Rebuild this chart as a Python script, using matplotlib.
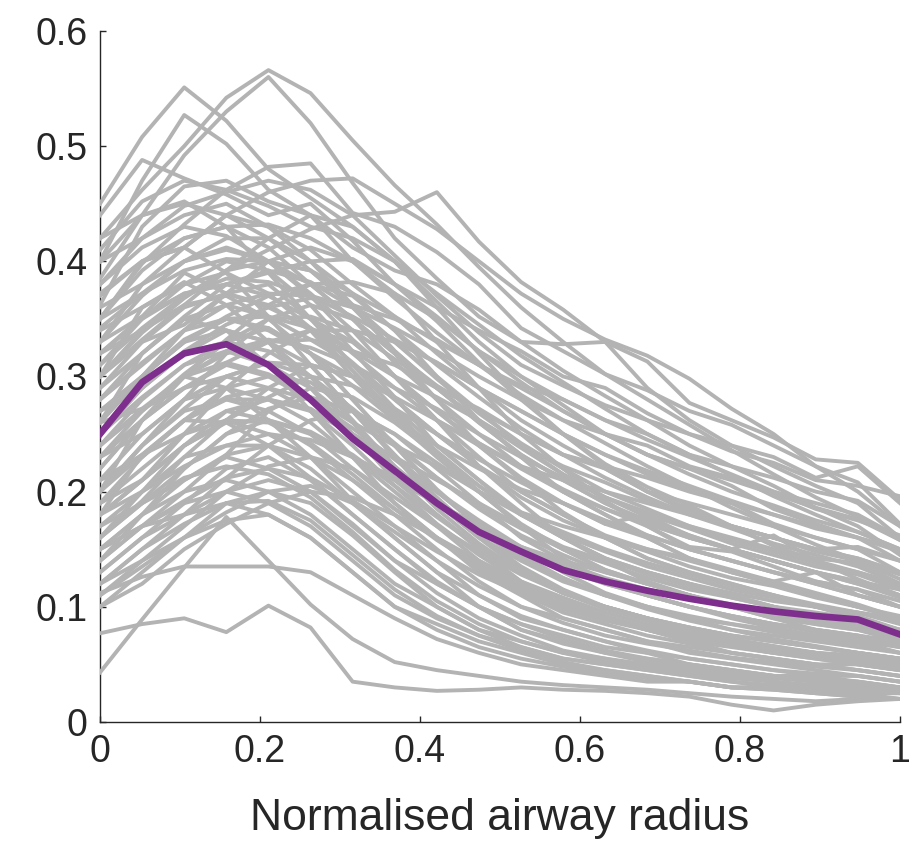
import numpy as np
import matplotlib
matplotlib.use("Agg")
import matplotlib.pyplot as plt

# normalised airway radius sample points (20 bins)
radius = np.linspace(0, 1, 20)

# individual airway profiles (grey)
high_profiles = [
    [0.450, 0.508, 0.551, 0.522, 0.480, 0.455, 0.430, 0.400, 0.372, 0.345, 0.318, 0.295, 0.272, 0.250, 0.232, 0.214, 0.196, 0.180, 0.165, 0.150],
    [0.420, 0.462, 0.500, 0.542, 0.566, 0.546, 0.505, 0.466, 0.432, 0.395, 0.360, 0.330, 0.302, 0.280, 0.258, 0.236, 0.215, 0.195, 0.178, 0.158],
    [0.300, 0.338, 0.368, 0.392, 0.410, 0.428, 0.440, 0.443, 0.460, 0.417, 0.382, 0.358, 0.330, 0.313, 0.277, 0.262, 0.247, 0.228, 0.225, 0.193],
    [0.385, 0.440, 0.492, 0.530, 0.560, 0.520, 0.468, 0.420, 0.385, 0.352, 0.330, 0.305, 0.283, 0.262, 0.240, 0.222, 0.205, 0.186, 0.170, 0.145],
    [0.400, 0.470, 0.527, 0.502, 0.462, 0.440, 0.400, 0.368, 0.338, 0.310, 0.284, 0.262, 0.242, 0.222, 0.204, 0.186, 0.170, 0.154, 0.140, 0.124],
    [0.440, 0.488, 0.472, 0.458, 0.440, 0.450, 0.418, 0.380, 0.348, 0.312, 0.280, 0.250, 0.224, 0.204, 0.188, 0.170, 0.153, 0.140, 0.124, 0.110],
    [0.350, 0.398, 0.432, 0.462, 0.482, 0.485, 0.442, 0.430, 0.408, 0.380, 0.342, 0.322, 0.302, 0.288, 0.270, 0.258, 0.240, 0.222, 0.208, 0.172],
    [0.330, 0.380, 0.412, 0.440, 0.460, 0.470, 0.472, 0.450, 0.428, 0.400, 0.372, 0.350, 0.332, 0.318, 0.298, 0.272, 0.250, 0.222, 0.200, 0.170],
    [0.362, 0.430, 0.465, 0.470, 0.452, 0.440, 0.412, 0.392, 0.380, 0.358, 0.330, 0.328, 0.330, 0.290, 0.262, 0.240, 0.222, 0.205, 0.190, 0.160],
    [0.410, 0.452, 0.470, 0.462, 0.448, 0.430, 0.420, 0.400, 0.365, 0.330, 0.300, 0.275, 0.250, 0.232, 0.220, 0.205, 0.185, 0.172, 0.160, 0.140],
    [0.380, 0.420, 0.448, 0.460, 0.470, 0.462, 0.440, 0.405, 0.370, 0.338, 0.310, 0.292, 0.275, 0.262, 0.250, 0.235, 0.225, 0.210, 0.205, 0.196],
]

slow_profiles = [
    [0.300, 0.340, 0.370, 0.385, 0.382, 0.370, 0.352, 0.332, 0.312, 0.290, 0.270, 0.250, 0.232, 0.215, 0.202, 0.190, 0.180, 0.170, 0.160, 0.150],
    [0.262, 0.300, 0.330, 0.350, 0.352, 0.342, 0.322, 0.300, 0.282, 0.262, 0.240, 0.222, 0.208, 0.192, 0.182, 0.170, 0.160, 0.150, 0.142, 0.130],
    [0.220, 0.262, 0.300, 0.322, 0.332, 0.325, 0.310, 0.290, 0.272, 0.250, 0.230, 0.212, 0.195, 0.182, 0.170, 0.160, 0.150, 0.142, 0.138, 0.120],
    [0.200, 0.240, 0.272, 0.300, 0.312, 0.310, 0.300, 0.282, 0.262, 0.242, 0.222, 0.202, 0.185, 0.172, 0.160, 0.150, 0.140, 0.130, 0.122, 0.110],
    [0.342, 0.372, 0.392, 0.402, 0.400, 0.392, 0.372, 0.352, 0.330, 0.310, 0.292, 0.280, 0.262, 0.250, 0.232, 0.222, 0.212, 0.200, 0.192, 0.170],
    [0.280, 0.310, 0.340, 0.362, 0.372, 0.370, 0.360, 0.342, 0.322, 0.300, 0.280, 0.262, 0.250, 0.240, 0.222, 0.212, 0.200, 0.190, 0.180, 0.160],
    [0.240, 0.272, 0.300, 0.320, 0.330, 0.332, 0.322, 0.310, 0.290, 0.272, 0.250, 0.232, 0.222, 0.212, 0.200, 0.190, 0.172, 0.160, 0.150, 0.130],
    [0.320, 0.352, 0.372, 0.380, 0.390, 0.400, 0.402, 0.380, 0.352, 0.322, 0.300, 0.280, 0.262, 0.245, 0.230, 0.215, 0.200, 0.185, 0.175, 0.162],
    [0.372, 0.400, 0.420, 0.430, 0.432, 0.420, 0.400, 0.380, 0.360, 0.340, 0.322, 0.300, 0.290, 0.268, 0.250, 0.240, 0.230, 0.212, 0.222, 0.190],
    [0.250, 0.290, 0.322, 0.345, 0.360, 0.368, 0.362, 0.350, 0.332, 0.310, 0.290, 0.270, 0.250, 0.232, 0.220, 0.210, 0.198, 0.186, 0.176, 0.158],
]

mid_profiles = [
    [0.400, 0.420, 0.440, 0.450, 0.430, 0.400, 0.362, 0.322, 0.290, 0.260, 0.232, 0.210, 0.190, 0.172, 0.160, 0.150, 0.140, 0.130, 0.120, 0.110],
    [0.380, 0.412, 0.430, 0.422, 0.400, 0.370, 0.332, 0.300, 0.270, 0.240, 0.212, 0.190, 0.172, 0.160, 0.142, 0.132, 0.122, 0.112, 0.102, 0.090],
    [0.350, 0.392, 0.420, 0.430, 0.412, 0.380, 0.350, 0.312, 0.280, 0.250, 0.222, 0.200, 0.180, 0.162, 0.150, 0.140, 0.130, 0.120, 0.110, 0.100],
    [0.330, 0.370, 0.400, 0.412, 0.400, 0.372, 0.340, 0.300, 0.262, 0.230, 0.200, 0.180, 0.160, 0.142, 0.130, 0.120, 0.110, 0.100, 0.090, 0.080],
    [0.310, 0.350, 0.380, 0.400, 0.392, 0.362, 0.322, 0.282, 0.240, 0.210, 0.180, 0.160, 0.142, 0.130, 0.120, 0.110, 0.100, 0.090, 0.085, 0.070],
    [0.300, 0.330, 0.360, 0.372, 0.362, 0.340, 0.300, 0.262, 0.230, 0.200, 0.170, 0.150, 0.132, 0.120, 0.110, 0.100, 0.090, 0.085, 0.080, 0.070],
    [0.280, 0.320, 0.350, 0.362, 0.352, 0.332, 0.310, 0.280, 0.250, 0.222, 0.200, 0.180, 0.162, 0.150, 0.140, 0.130, 0.120, 0.110, 0.100, 0.090],
    [0.270, 0.300, 0.332, 0.350, 0.340, 0.320, 0.280, 0.240, 0.200, 0.170, 0.150, 0.130, 0.112, 0.100, 0.090, 0.080, 0.075, 0.070, 0.065, 0.060],
    [0.250, 0.290, 0.320, 0.340, 0.330, 0.310, 0.270, 0.230, 0.190, 0.160, 0.132, 0.112, 0.100, 0.090, 0.080, 0.070, 0.065, 0.060, 0.055, 0.050],
    [0.240, 0.280, 0.310, 0.322, 0.310, 0.290, 0.260, 0.220, 0.190, 0.160, 0.140, 0.122, 0.110, 0.100, 0.090, 0.085, 0.080, 0.075, 0.070, 0.065],
    [0.220, 0.262, 0.290, 0.310, 0.300, 0.280, 0.250, 0.210, 0.180, 0.150, 0.122, 0.100, 0.090, 0.080, 0.070, 0.065, 0.060, 0.055, 0.050, 0.045],
    [0.210, 0.250, 0.280, 0.290, 0.280, 0.260, 0.230, 0.200, 0.170, 0.140, 0.120, 0.100, 0.090, 0.080, 0.070, 0.060, 0.055, 0.050, 0.045, 0.040],
    [0.200, 0.240, 0.270, 0.280, 0.270, 0.250, 0.220, 0.190, 0.160, 0.130, 0.110, 0.090, 0.080, 0.070, 0.060, 0.055, 0.050, 0.045, 0.040, 0.035],
    [0.190, 0.220, 0.250, 0.270, 0.262, 0.240, 0.210, 0.180, 0.150, 0.122, 0.100, 0.090, 0.080, 0.070, 0.065, 0.060, 0.055, 0.050, 0.050, 0.045],
    [0.180, 0.210, 0.240, 0.262, 0.250, 0.230, 0.200, 0.170, 0.140, 0.110, 0.090, 0.080, 0.070, 0.060, 0.055, 0.050, 0.045, 0.040, 0.040, 0.035],
    [0.170, 0.200, 0.230, 0.240, 0.240, 0.220, 0.190, 0.160, 0.130, 0.100, 0.085, 0.075, 0.065, 0.060, 0.050, 0.045, 0.040, 0.040, 0.035, 0.030],
    [0.160, 0.190, 0.210, 0.230, 0.220, 0.200, 0.170, 0.140, 0.120, 0.100, 0.080, 0.070, 0.060, 0.055, 0.050, 0.045, 0.040, 0.035, 0.035, 0.030],
    [0.150, 0.180, 0.200, 0.210, 0.200, 0.180, 0.150, 0.120, 0.100, 0.080, 0.070, 0.060, 0.055, 0.050, 0.045, 0.040, 0.035, 0.030, 0.030, 0.025],
    [0.140, 0.170, 0.190, 0.200, 0.190, 0.170, 0.140, 0.110, 0.090, 0.075, 0.065, 0.055, 0.050, 0.045, 0.040, 0.035, 0.030, 0.030, 0.025, 0.025],
    [0.130, 0.160, 0.180, 0.190, 0.180, 0.160, 0.130, 0.100, 0.085, 0.070, 0.060, 0.050, 0.045, 0.040, 0.035, 0.030, 0.030, 0.025, 0.025, 0.020],
]

late_peak_profiles = [
    [0.230, 0.262, 0.300, 0.332, 0.362, 0.380, 0.370, 0.340, 0.300, 0.262, 0.230, 0.200, 0.180, 0.160, 0.142, 0.130, 0.120, 0.110, 0.100, 0.090],
    [0.200, 0.240, 0.280, 0.320, 0.350, 0.362, 0.350, 0.320, 0.280, 0.240, 0.210, 0.182, 0.160, 0.142, 0.130, 0.120, 0.110, 0.100, 0.092, 0.080],
    [0.180, 0.210, 0.250, 0.290, 0.320, 0.340, 0.330, 0.300, 0.262, 0.222, 0.190, 0.160, 0.140, 0.122, 0.110, 0.100, 0.090, 0.080, 0.075, 0.065],
    [0.160, 0.192, 0.230, 0.262, 0.290, 0.310, 0.300, 0.270, 0.232, 0.200, 0.170, 0.142, 0.122, 0.110, 0.100, 0.090, 0.082, 0.075, 0.070, 0.060],
    [0.260, 0.300, 0.340, 0.372, 0.400, 0.412, 0.400, 0.372, 0.330, 0.290, 0.250, 0.220, 0.192, 0.170, 0.150, 0.140, 0.130, 0.120, 0.110, 0.100],
    [0.120, 0.150, 0.180, 0.212, 0.240, 0.262, 0.270, 0.250, 0.220, 0.190, 0.160, 0.140, 0.122, 0.110, 0.100, 0.092, 0.085, 0.080, 0.075, 0.070],
    [0.140, 0.170, 0.200, 0.232, 0.270, 0.290, 0.282, 0.260, 0.232, 0.200, 0.172, 0.150, 0.132, 0.120, 0.110, 0.100, 0.092, 0.085, 0.080, 0.072],
    [0.300, 0.332, 0.362, 0.392, 0.420, 0.440, 0.430, 0.400, 0.360, 0.320, 0.282, 0.250, 0.222, 0.200, 0.182, 0.170, 0.160, 0.150, 0.142, 0.130],
]

early_peak_profiles = [
    [0.300, 0.360, 0.382, 0.362, 0.330, 0.290, 0.250, 0.212, 0.180, 0.152, 0.130, 0.112, 0.100, 0.090, 0.082, 0.075, 0.070, 0.065, 0.060, 0.055],
    [0.260, 0.320, 0.350, 0.340, 0.310, 0.270, 0.230, 0.190, 0.160, 0.132, 0.112, 0.095, 0.085, 0.075, 0.068, 0.060, 0.055, 0.050, 0.045, 0.040],
    [0.350, 0.400, 0.412, 0.390, 0.352, 0.310, 0.270, 0.230, 0.200, 0.172, 0.150, 0.132, 0.120, 0.110, 0.100, 0.092, 0.085, 0.080, 0.075, 0.068],
    [0.200, 0.262, 0.300, 0.290, 0.262, 0.230, 0.192, 0.160, 0.130, 0.110, 0.092, 0.080, 0.070, 0.062, 0.055, 0.050, 0.045, 0.042, 0.040, 0.035],
    [0.400, 0.440, 0.452, 0.430, 0.390, 0.350, 0.310, 0.272, 0.240, 0.210, 0.182, 0.160, 0.142, 0.130, 0.120, 0.110, 0.100, 0.092, 0.085, 0.078],
    [0.180, 0.232, 0.262, 0.260, 0.240, 0.212, 0.180, 0.150, 0.122, 0.100, 0.085, 0.072, 0.062, 0.055, 0.050, 0.045, 0.040, 0.038, 0.035, 0.030],
]

low_profiles = [
    [0.077, 0.085, 0.090, 0.078, 0.101, 0.082, 0.035, 0.030, 0.027, 0.028, 0.030, 0.028, 0.027, 0.025, 0.022, 0.015, 0.010, 0.015, 0.018, 0.020],
    [0.043, 0.089, 0.134, 0.178, 0.140, 0.102, 0.072, 0.052, 0.045, 0.040, 0.035, 0.032, 0.030, 0.028, 0.025, 0.022, 0.020, 0.018, 0.020, 0.020],
    [0.112, 0.126, 0.135, 0.135, 0.135, 0.130, 0.110, 0.090, 0.072, 0.060, 0.050, 0.045, 0.040, 0.035, 0.035, 0.030, 0.030, 0.028, 0.025, 0.025],
    [0.110, 0.140, 0.160, 0.175, 0.180, 0.160, 0.130, 0.100, 0.080, 0.065, 0.055, 0.048, 0.042, 0.038, 0.035, 0.030, 0.028, 0.025, 0.022, 0.020],
    [0.120, 0.150, 0.172, 0.190, 0.192, 0.175, 0.145, 0.115, 0.092, 0.075, 0.062, 0.052, 0.045, 0.040, 0.035, 0.030, 0.028, 0.025, 0.022, 0.020],
    [0.150, 0.170, 0.180, 0.200, 0.210, 0.200, 0.172, 0.140, 0.112, 0.090, 0.075, 0.062, 0.055, 0.048, 0.042, 0.038, 0.035, 0.032, 0.030, 0.028],
    [0.130, 0.160, 0.190, 0.220, 0.230, 0.210, 0.180, 0.150, 0.120, 0.100, 0.080, 0.068, 0.060, 0.052, 0.048, 0.042, 0.040, 0.035, 0.032, 0.030],
    [0.100, 0.130, 0.160, 0.190, 0.200, 0.190, 0.162, 0.130, 0.100, 0.080, 0.065, 0.055, 0.050, 0.045, 0.040, 0.035, 0.032, 0.030, 0.028, 0.025],
    [0.170, 0.190, 0.212, 0.222, 0.215, 0.195, 0.165, 0.132, 0.105, 0.085, 0.070, 0.060, 0.052, 0.048, 0.045, 0.040, 0.038, 0.035, 0.032, 0.030],
]

tail_profiles = [
    [0.280, 0.312, 0.340, 0.350, 0.342, 0.320, 0.292, 0.262, 0.240, 0.220, 0.202, 0.190, 0.172, 0.180, 0.160, 0.150, 0.162, 0.140, 0.130, 0.120],
    [0.240, 0.270, 0.300, 0.312, 0.302, 0.282, 0.260, 0.240, 0.222, 0.200, 0.182, 0.170, 0.160, 0.150, 0.142, 0.130, 0.122, 0.130, 0.110, 0.100],
    [0.320, 0.350, 0.372, 0.380, 0.370, 0.350, 0.320, 0.290, 0.262, 0.240, 0.222, 0.210, 0.200, 0.190, 0.180, 0.170, 0.160, 0.150, 0.152, 0.140],
    [0.200, 0.232, 0.262, 0.280, 0.280, 0.270, 0.250, 0.230, 0.210, 0.190, 0.170, 0.152, 0.140, 0.130, 0.120, 0.112, 0.105, 0.100, 0.095, 0.090],
    [0.180, 0.210, 0.240, 0.260, 0.262, 0.250, 0.230, 0.212, 0.190, 0.170, 0.152, 0.140, 0.130, 0.120, 0.110, 0.100, 0.095, 0.090, 0.085, 0.080],
    [0.360, 0.380, 0.400, 0.410, 0.400, 0.380, 0.350, 0.320, 0.292, 0.270, 0.250, 0.232, 0.220, 0.200, 0.190, 0.180, 0.170, 0.160, 0.150, 0.140],
]

extra_profiles = [
    [0.330, 0.352, 0.390, 0.372, 0.380, 0.350, 0.330, 0.300, 0.270, 0.242, 0.220, 0.200, 0.185, 0.170, 0.152, 0.148, 0.135, 0.122, 0.115, 0.100],
    [0.290, 0.330, 0.345, 0.372, 0.360, 0.342, 0.312, 0.280, 0.250, 0.222, 0.195, 0.175, 0.160, 0.148, 0.135, 0.125, 0.118, 0.108, 0.100, 0.092],
    [0.270, 0.290, 0.320, 0.330, 0.342, 0.320, 0.300, 0.265, 0.232, 0.205, 0.180, 0.165, 0.150, 0.138, 0.128, 0.118, 0.110, 0.102, 0.095, 0.085],
    [0.230, 0.270, 0.302, 0.330, 0.322, 0.300, 0.272, 0.242, 0.212, 0.185, 0.162, 0.145, 0.130, 0.120, 0.110, 0.102, 0.095, 0.088, 0.082, 0.075],
    [0.210, 0.230, 0.262, 0.290, 0.300, 0.295, 0.270, 0.240, 0.212, 0.188, 0.168, 0.150, 0.138, 0.125, 0.115, 0.108, 0.100, 0.095, 0.090, 0.080],
    [0.190, 0.230, 0.262, 0.282, 0.290, 0.280, 0.255, 0.228, 0.200, 0.175, 0.152, 0.135, 0.120, 0.110, 0.100, 0.092, 0.085, 0.078, 0.072, 0.065],
    [0.160, 0.200, 0.240, 0.270, 0.280, 0.272, 0.250, 0.222, 0.192, 0.165, 0.142, 0.125, 0.110, 0.100, 0.092, 0.085, 0.078, 0.072, 0.068, 0.060],
    [0.140, 0.180, 0.220, 0.250, 0.262, 0.252, 0.232, 0.205, 0.178, 0.152, 0.130, 0.112, 0.100, 0.090, 0.082, 0.075, 0.070, 0.065, 0.060, 0.055],
    [0.350, 0.372, 0.400, 0.420, 0.420, 0.400, 0.372, 0.340, 0.310, 0.282, 0.255, 0.232, 0.212, 0.195, 0.180, 0.168, 0.155, 0.145, 0.135, 0.120],
    [0.370, 0.400, 0.412, 0.440, 0.430, 0.410, 0.380, 0.352, 0.320, 0.290, 0.262, 0.240, 0.220, 0.200, 0.185, 0.170, 0.160, 0.148, 0.140, 0.128],
    [0.310, 0.342, 0.370, 0.392, 0.400, 0.392, 0.362, 0.330, 0.300, 0.270, 0.240, 0.215, 0.195, 0.178, 0.162, 0.150, 0.140, 0.130, 0.120, 0.108],
    [0.250, 0.282, 0.310, 0.330, 0.350, 0.352, 0.340, 0.315, 0.290, 0.262, 0.238, 0.215, 0.195, 0.180, 0.168, 0.155, 0.145, 0.135, 0.128, 0.115],
    [0.190, 0.210, 0.240, 0.262, 0.282, 0.300, 0.292, 0.272, 0.250, 0.228, 0.208, 0.190, 0.175, 0.162, 0.150, 0.140, 0.130, 0.122, 0.115, 0.105],
    [0.160, 0.190, 0.220, 0.250, 0.272, 0.282, 0.270, 0.250, 0.225, 0.200, 0.180, 0.162, 0.148, 0.135, 0.125, 0.115, 0.108, 0.100, 0.095, 0.088],
    [0.230, 0.250, 0.280, 0.300, 0.312, 0.300, 0.270, 0.232, 0.195, 0.162, 0.135, 0.115, 0.100, 0.090, 0.080, 0.072, 0.065, 0.060, 0.058, 0.052],
    [0.270, 0.300, 0.330, 0.340, 0.330, 0.300, 0.262, 0.222, 0.185, 0.155, 0.130, 0.112, 0.098, 0.088, 0.078, 0.070, 0.065, 0.060, 0.055, 0.048],
    [0.320, 0.340, 0.362, 0.370, 0.350, 0.320, 0.280, 0.240, 0.202, 0.170, 0.145, 0.125, 0.110, 0.098, 0.088, 0.080, 0.072, 0.066, 0.060, 0.055],
    [0.260, 0.272, 0.290, 0.300, 0.290, 0.270, 0.240, 0.205, 0.172, 0.145, 0.122, 0.105, 0.092, 0.082, 0.075, 0.068, 0.062, 0.058, 0.052, 0.048],
    [0.150, 0.170, 0.192, 0.212, 0.220, 0.212, 0.192, 0.170, 0.148, 0.128, 0.112, 0.098, 0.088, 0.080, 0.072, 0.066, 0.060, 0.056, 0.052, 0.048],
    [0.120, 0.140, 0.170, 0.200, 0.222, 0.230, 0.220, 0.195, 0.170, 0.148, 0.128, 0.112, 0.100, 0.090, 0.082, 0.075, 0.070, 0.065, 0.060, 0.055],
    [0.210, 0.232, 0.250, 0.262, 0.260, 0.242, 0.215, 0.185, 0.158, 0.135, 0.115, 0.100, 0.090, 0.082, 0.075, 0.068, 0.062, 0.058, 0.055, 0.050],
    [0.340, 0.360, 0.380, 0.390, 0.372, 0.342, 0.305, 0.268, 0.235, 0.205, 0.180, 0.160, 0.142, 0.128, 0.118, 0.108, 0.100, 0.092, 0.085, 0.078],
    [0.290, 0.320, 0.352, 0.380, 0.392, 0.382, 0.360, 0.330, 0.298, 0.268, 0.242, 0.220, 0.200, 0.185, 0.170, 0.158, 0.148, 0.138, 0.130, 0.118],
    [0.180, 0.200, 0.222, 0.240, 0.250, 0.245, 0.230, 0.210, 0.190, 0.170, 0.152, 0.138, 0.125, 0.115, 0.108, 0.100, 0.094, 0.088, 0.082, 0.075],
    [0.100, 0.120, 0.150, 0.172, 0.190, 0.200, 0.195, 0.180, 0.160, 0.140, 0.122, 0.108, 0.095, 0.085, 0.078, 0.072, 0.066, 0.060, 0.056, 0.050],
    [0.420, 0.440, 0.450, 0.440, 0.420, 0.392, 0.360, 0.322, 0.290, 0.260, 0.232, 0.210, 0.190, 0.175, 0.162, 0.150, 0.140, 0.130, 0.122, 0.115],
    [0.260, 0.300, 0.330, 0.352, 0.370, 0.380, 0.382, 0.372, 0.350, 0.322, 0.295, 0.270, 0.250, 0.232, 0.215, 0.200, 0.188, 0.175, 0.165, 0.150],
    [0.230, 0.262, 0.290, 0.312, 0.330, 0.340, 0.340, 0.330, 0.312, 0.290, 0.270, 0.250, 0.232, 0.218, 0.205, 0.192, 0.180, 0.168, 0.160, 0.148],
    [0.150, 0.180, 0.210, 0.232, 0.240, 0.230, 0.210, 0.185, 0.160, 0.138, 0.118, 0.102, 0.090, 0.080, 0.072, 0.066, 0.060, 0.055, 0.050, 0.045],
    [0.110, 0.135, 0.160, 0.182, 0.200, 0.205, 0.190, 0.165, 0.140, 0.118, 0.100, 0.086, 0.075, 0.068, 0.062, 0.056, 0.052, 0.048, 0.045, 0.040],
]

# group mean (purple)
mean_profile = [0.250, 0.295, 0.320, 0.328, 0.310, 0.280, 0.246, 0.218, 0.190, 0.165, 0.148, 0.132, 0.122, 0.114, 0.107, 0.101, 0.096, 0.092, 0.089, 0.076]

x_ticks = [0, 0.2, 0.4, 0.6, 0.8, 1]
x_tick_labels = ["0", "0.2", "0.4", "0.6", "0.8", "1"]
y_ticks = [0, 0.1, 0.2, 0.3, 0.4, 0.5, 0.6]
y_tick_labels = ["0", "0.1", "0.2", "0.3", "0.4", "0.5", "0.6"]

plt.rcParams["font.family"] = ["Liberation Sans", "DejaVu Sans"]

fig = plt.figure(figsize=(9.16, 8.6), dpi=100)
ax = fig.add_axes([0.1092, 0.1605, 0.8733, 0.8035])

all_profiles = (high_profiles + slow_profiles + mid_profiles + late_peak_profiles
                + early_peak_profiles + low_profiles + tail_profiles + extra_profiles)
for prof in all_profiles:
    ax.plot(radius, prof, color="#b3b3b3", linewidth=2.8, zorder=3)

ax.plot(radius, mean_profile, color="#7e2f8e", linewidth=4.8, zorder=4)

ax.set_xlim(0, 1)
ax.set_ylim(0, 0.6)
ax.set_xticks(x_ticks)
ax.set_xticklabels(x_tick_labels)
ax.set_yticks(y_ticks)
ax.set_yticklabels(y_tick_labels)

ax.spines["top"].set_visible(False)
ax.spines["right"].set_visible(False)
for side in ["left", "bottom"]:
    ax.spines[side].set_color("#262626")
    ax.spines[side].set_linewidth(1.0)
ax.tick_params(direction="in", length=4, width=1.0, colors="#262626",
               labelsize=27, pad=9)

ax.set_xlabel("Normalised airway radius", fontsize=32, color="#262626", labelpad=20)

plt.savefig("out.png", dpi=100)
plt.close()
